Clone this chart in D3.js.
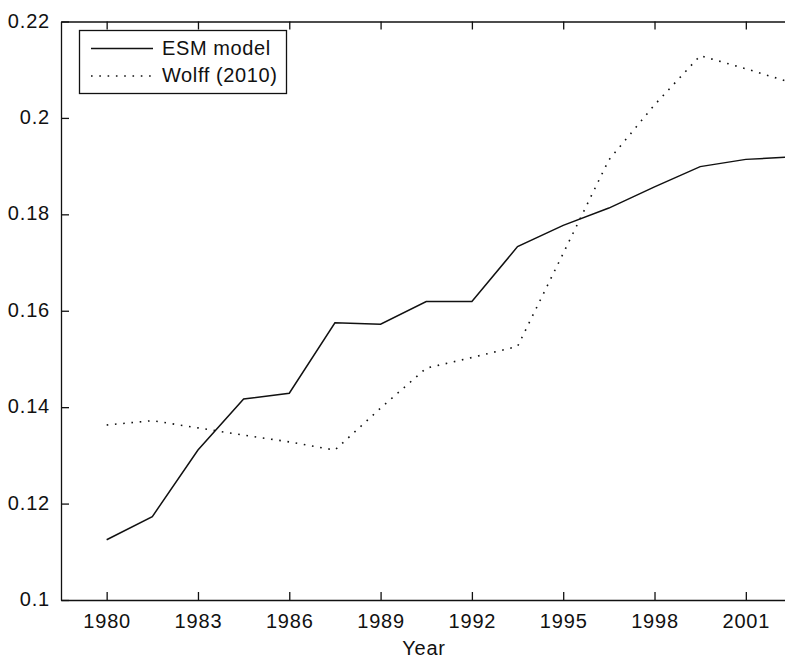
<!DOCTYPE html>
<html>
<head>
<meta charset="utf-8">
<script src="https://cdn.jsdelivr.net/npm/d3@7"></script>
<style>
  html, body { margin: 0; padding: 0; background: #fff; }
  svg { display: block; }
  text { font-family: "Liberation Sans", Arial, sans-serif; fill: #111; }
</style>
</head>
<body>
<svg id="chart" width="785" height="658"></svg>
<script>
// Sampling years (every 1.5 years)
const years = [1980, 1981.5, 1983, 1984.5, 1986, 1987.5, 1989, 1990.5, 1992,
               1993.5, 1995, 1996.5, 1998, 1999.5, 2001, 2002.5];
// ESM model output
const esmModel = [0.1125, 0.1173, 0.1311, 0.1417, 0.1429, 0.1575, 0.1572, 0.1619, 0.1619,
                  0.1733, 0.1777, 0.1813, 0.1857, 0.1899, 0.1914, 0.1919];
// Wolff (2010) series
const wolff2010 = [0.1363, 0.1372, 0.1357, 0.1342, 0.1328, 0.1311, 0.1398, 0.1481, 0.1503,
                   0.1526, 0.1719, 0.1913, 0.2027, 0.2129, 0.2102, 0.2073];
const xTicks = [1980, 1983, 1986, 1989, 1992, 1995, 1998, 2001];
const yTicks = [0.1, 0.12, 0.14, 0.16, 0.18, 0.2, 0.22];
const seriesNames = ["ESM model", "Wolff (2010)"];

const svg = d3.select("#chart");
const plotLeft = 61, plotRight = 786, plotTop = 21.5, plotBottom = 600;

const x = d3.scaleLinear().domain([1978.5, 2002.32]).range([plotLeft, plotRight]);
const y = d3.scaleLinear().domain([0.1, 0.22]).range([plotBottom, plotTop]);

svg.append("defs").append("clipPath").attr("id", "plotClip")
  .append("rect").attr("x", plotLeft).attr("y", plotTop)
  .attr("width", plotRight - plotLeft).attr("height", plotBottom - plotTop);

const fmtY = d => (d === 0.1 ? "0.1" : d === 0.2 ? "0.2" : d3.format(".2f")(d));

// Axes: ticks point inward, mirrored along the top edge
const tickLen = 8;
const gx = svg.append("g").attr("transform", `translate(0,${plotBottom})`)
  .call(d3.axisBottom(x).tickValues(xTicks).tickFormat(d3.format("d"))
    .tickSizeInner(-tickLen).tickSizeOuter(0).tickPadding(14));
const gxTop = svg.append("g").attr("transform", `translate(0,${plotTop})`)
  .call(d3.axisTop(x).tickValues(xTicks).tickFormat("")
    .tickSizeInner(-tickLen).tickSizeOuter(0));
const gy = svg.append("g").attr("transform", `translate(${plotLeft},0)`)
  .call(d3.axisLeft(y).tickValues(yTicks).tickFormat(fmtY)
    .tickSizeInner(-tickLen).tickSizeOuter(0).tickPadding(11));

[gx, gxTop, gy].forEach(g => {
  g.selectAll("path.domain").attr("stroke", "#111").attr("stroke-width", 1.3);
  g.selectAll(".tick line").attr("stroke", "#111").attr("stroke-width", 1.3);
  g.selectAll("text").attr("font-size", 20).attr("letter-spacing", "0.8px")
    .attr("font-family", '"Liberation Sans", Arial, sans-serif').attr("fill", "#222");
});
gx.selectAll("text").attr("dy", "0.71em");
gy.selectAll("text").attr("dy", "0.28em");

// Axis label
svg.append("text").attr("x", 424).attr("y", 655).attr("fill", "#222")
  .attr("text-anchor", "middle").attr("font-size", 20).attr("letter-spacing", "0.8px")
  .text("Year");

// Series lines
const line = d3.line().x((d, i) => x(years[i])).y(d => y(d));
const plot = svg.append("g").attr("clip-path", "url(#plotClip)");
plot.append("path").datum(esmModel).attr("d", line)
  .attr("fill", "none").attr("stroke", "#111").attr("stroke-width", 1.5);
plot.append("path").datum(wolff2010).attr("d", line)
  .attr("fill", "none").attr("stroke", "#111").attr("stroke-width", 1.6)
  .attr("stroke-dasharray", "1.6 6.7");

// Legend
const lg = svg.append("g");
lg.append("rect").attr("x", 79.5).attr("y", 30.5).attr("width", 207).attr("height", 63)
  .attr("fill", "#fff").attr("stroke", "#111").attr("stroke-width", 1.3);
const legendRows = [
  { name: seriesNames[0], dash: null, ly: 48.5, ty: 55 },
  { name: seriesNames[1], dash: "1.6 6.7", ly: 76, ty: 81.5 }
];
legendRows.forEach(r => {
  const l = lg.append("line").attr("x1", 91).attr("x2", 153).attr("y1", r.ly).attr("y2", r.ly)
    .attr("stroke", "#111").attr("stroke-width", 1.5);
  if (r.dash) l.attr("stroke-dasharray", r.dash);
  lg.append("text").attr("x", 162).attr("y", r.ty).attr("font-size", 20)
    .attr("letter-spacing", "0.6px").attr("fill", "#222").text(r.name);
});
</script>
</body>
</html>
